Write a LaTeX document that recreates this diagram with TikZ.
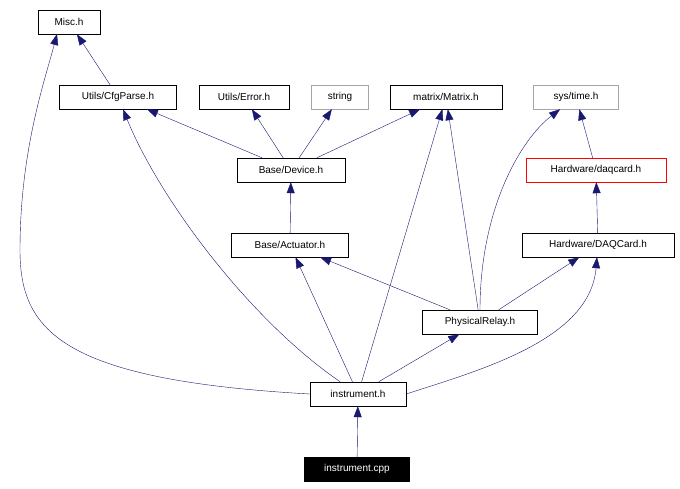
\documentclass[tikz,border=0pt]{standalone}
\usepackage{fontspec}
\setmainfont{Liberation Sans}
\usetikzlibrary{arrows.meta}
\definecolor{edgeblue}{HTML}{191970}
\tikzset{
  file/.style={draw=black,fill=white,inner sep=0pt,minimum height=24pt,font=\fontsize{10}{11}\selectfont},
  sysfile/.style={file,draw=gray!70},
  inc/.style={edgeblue,-{Triangle[length=11pt,width=8pt]}},
}
\begin{document}
\begin{tikzpicture}[x=1pt,y=-1pt]
	\useasboundingbox (0,0) rectangle (680,489);
	%nodes
	\node [file,minimum width=62pt] (misc) at (69,22) {Misc.h};
	\node [file,minimum width=117pt] (cfg) at (118,97) {Utils/CfgParse.h};
	\node [file,minimum width=90pt] (err) at (244,97) {Utils/Error.h};
	\node [sysfile,minimum width=57pt] (str) at (340,97) {string};
	\node [file,minimum width=112pt] (mat) at (446,97) {matrix/Matrix.h};
	\node [sysfile,minimum width=85pt] (time) at (576,97) {sys/time.h};
	\node [file,minimum width=108pt] (dev) at (291,170) {Base/Device.h};
	\node [file,draw=red,minimum width=140pt] (daqh) at (596,170) {Hardware/daqcard.h};
	\node [file,minimum width=117pt] (act) at (290,245) {Base/Actuator.h};
	\node [file,minimum width=152pt] (daq) at (598,245) {Hardware/DAQCard.h};
	\node [file,minimum width=115pt] (relay) at (480,322) {PhysicalRelay.h};
	\node [file,minimum width=96pt] (inst) at (358,394) {instrument.h};
	\node [file,fill=black,text=white,minimum width=105pt] (cpp) at (357,469) {instrument.cpp};
	\coordinate (miscin) at (57,34);
	%edges
	\draw [inc] (cfg) -- (misc);
	\draw [inc] (inst.west) .. controls (60,380) and (20,330) .. (20,250)
		.. controls (20,150) and (45,80) .. (miscin);
	\draw [inc] (inst) .. controls (250,320) and (160,200) .. (cfg);
	\draw [inc] (dev) -- (cfg);
	\draw [inc] (dev) -- (err);
	\draw [inc] (dev) -- (str);
	\draw [inc] (dev) -- (mat);
	\draw [inc] (act) -- (dev);
	\draw [inc] (relay) -- (act);
	\draw [inc] (inst) -- (act);
	\draw [inc] (inst) -- (mat);
	\draw [inc] (relay) -- (mat);
	\draw [inc] (relay) .. controls (480,210) and (520,140) .. (time);
	\draw [inc] (daqh) -- (time);
	\draw [inc] (daq) -- (daqh);
	\draw [inc] (relay) -- (daq);
	\draw [inc] (inst.east) .. controls (480,370) and (590,340) .. (daq);
	\draw [inc] (inst) -- (relay);
	\draw [inc] (cpp) -- (inst);
\end{tikzpicture}
\end{document}
